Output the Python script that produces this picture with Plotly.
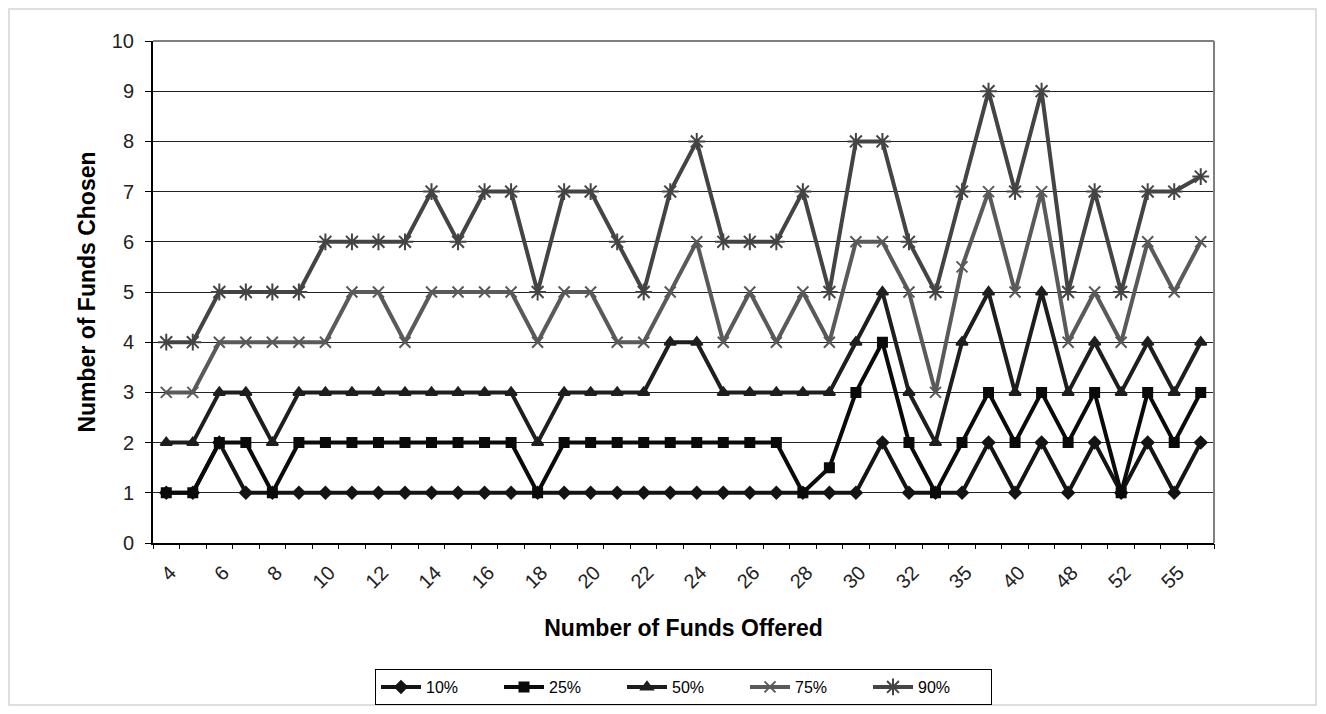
import plotly.graph_objects as go

# Categories: number of funds offered (every other one labelled on the axis)
categories = ["4", "5", "6", "7", "8", "9", "10", "11", "12", "13", "14", "15", "16", "17",
              "18", "19", "20", "21", "22", "23", "24", "25", "26", "27", "28", "29", "30",
              "31", "32", "33", "35", "38", "40", "45", "48", "50", "52", "54", "55", "59"]
tick_labels = ["4", "6", "8", "10", "12", "14", "16", "18", "20", "22", "24", "26", "28",
               "30", "32", "35", "40", "48", "52", "55"]

p10 = [1, 1, 2, 1, 1, 1, 1, 1, 1, 1, 1, 1, 1, 1, 1, 1, 1, 1, 1, 1, 1, 1, 1, 1, 1, 1, 1,
       2, 1, 1, 1, 2, 1, 2, 1, 2, 1, 2, 1, 2]
p25 = [1, 1, 2, 2, 1, 2, 2, 2, 2, 2, 2, 2, 2, 2, 1, 2, 2, 2, 2, 2, 2, 2, 2, 2, 1, 1.5, 3,
       4, 2, 1, 2, 3, 2, 3, 2, 3, 1, 3, 2, 3]
p50 = [2, 2, 3, 3, 2, 3, 3, 3, 3, 3, 3, 3, 3, 3, 2, 3, 3, 3, 3, 4, 4, 3, 3, 3, 3, 3, 4,
       5, 3, 2, 4, 5, 3, 5, 3, 4, 3, 4, 3, 4]
p75 = [3, 3, 4, 4, 4, 4, 4, 5, 5, 4, 5, 5, 5, 5, 4, 5, 5, 4, 4, 5, 6, 4, 5, 4, 5, 4, 6,
       6, 5, 3, 5.5, 7, 5, 7, 4, 5, 4, 6, 5, 6]
p90 = [4, 4, 5, 5, 5, 5, 6, 6, 6, 6, 7, 6, 7, 7, 5, 7, 7, 6, 5, 7, 8, 6, 6, 6, 7, 5, 8,
       8, 6, 5, 7, 9, 7, 9, 5, 7, 5, 7, 7, 7.3]

series = [
    ("10%", p10, "#141414", "diamond", 9),
    ("25%", p25, "#0a0a0a", "square", 9),
    ("50%", p50, "#1e1e1e", "triangle-up", 10),
    ("75%", p75, "#5a5a5a", "x-thin-open", 11),
    ("90%", p90, "#444444", "asterisk-open", 14),
]

fig = go.Figure()
for name, vals, col, sym, sz in series:
    fig.add_trace(go.Scatter(
        x=categories, y=vals, name=name, mode="lines+markers",
        line=dict(color=col, width=4),
        marker=dict(symbol=sym, size=sz, color=col, line=dict(color=col, width=2)),
    ))

# invisible trace for the tick axis (ticks at every category boundary)
fig.add_trace(go.Scatter(x=categories, y=p10, xaxis="x2", mode="markers",
                         marker=dict(opacity=0), showlegend=False, hoverinfo="skip"))

font_main = "Liberation Sans, Arial, sans-serif"

# page has an 8px body margin; figure is sized so the page is 1326x714
W, H = 1310, 698
L, T, R, B = 145, 33, 104, 163
pw = W - L - R
ph = H - T - B

fig.update_layout(
    width=W, height=H,
    margin=dict(l=L, r=R, t=T, b=B, autoexpand=False),
    paper_bgcolor="white", plot_bgcolor="white",
    font=dict(family=font_main, color="#000", size=19),
    xaxis=dict(
        type="category", categoryorder="array", categoryarray=categories,
        range=[-0.5, len(categories) - 0.5],
        tickmode="array", tickvals=tick_labels, ticktext=tick_labels,
        tickangle=-45, ticks="", showgrid=False,
        showline=True, linecolor="#000", linewidth=2, mirror=False,
        tickfont=dict(size=20, color="#222"),
        ticklabelstandoff=8, ticklabelshift=4,
        title=dict(text="<b>Number of Funds Offered</b>", font=dict(size=23), standoff=28),
    ),
    xaxis2=dict(
        type="category", categoryorder="array", categoryarray=categories,
        range=[-0.5, len(categories) - 0.5], overlaying="x", side="bottom",
        tickson="boundaries", ticks="outside", ticklen=5, tickcolor="#000", tickwidth=1,
        showticklabels=False, showgrid=False, showline=False,
    ),
    yaxis=dict(
        range=[0, 10], tickmode="linear", dtick=1, tick0=0,
        ticks="outside", ticklen=6, tickcolor="#000",
        showgrid=True, gridcolor="#222", gridwidth=1.2,
        showline=True, linecolor="#000", linewidth=2,
        zeroline=False, tickfont=dict(size=20, color="#222"),
        ticklabelstandoff=7,
        title=dict(text="<b>Number of Funds Chosen</b>", font=dict(size=23), standoff=10),
    ),
    legend=dict(
        orientation="h", x=0.5, xanchor="center", y=(ph - (661 - T)) / ph, yanchor="top",
        bordercolor="#000", borderwidth=1, font=dict(size=16),
        entrywidth=68, itemwidth=40, tracegroupgap=0,
    ),
    shapes=[
        # plot-area border (top and right, gray)
        dict(type="line", xref="paper", yref="paper", x0=0, x1=1, y0=1, y1=1,
             line=dict(color="#808080", width=2)),
        dict(type="line", xref="paper", yref="paper", x0=1, x1=1, y0=0, y1=1,
             line=dict(color="#808080", width=2)),
        # outer chart border
        dict(type="rect", xref="paper", yref="paper",
             x0=(1 - L) / pw, x1=(1308 - L) / pw,
             y0=(ph - (697 - T)) / ph, y1=(ph + T - 1) / ph,
             line=dict(color="#d4d4d4", width=1.5), layer="below"),
    ],
)

fig.write_html("out.html")
